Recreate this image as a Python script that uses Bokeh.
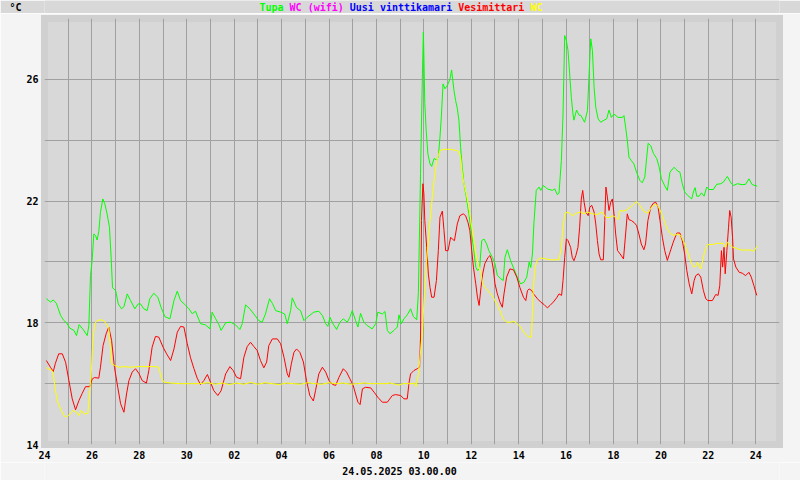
from bokeh.plotting import figure
from bokeh.layouts import column
from bokeh.models import Range1d, FixedTicker, LinearAxis
from bokeh.core.properties import value
from bokeh.embed import file_html
from bokeh.resources import INLINE

# ---------------- data ----------------
X_TICK_LABELS = ["24", "26", "28", "30", "02", "04", "06", "08",
                 "10", "12", "14", "16", "18", "20", "22", "24"]
Y_TICK_LABELS = [14, 18, 22, 26]
DATE_TEXT = "24.05.2025 03.00.00"
UNIT_TEXT = "°C"
SERIES_NAMES = ["Tupa", "WC (wifi)", "Uusi vinttikamari", "Vesimittari", "WC"]
SERIES_COLORS = ["#00ff00", "#ff00ff", "#0000ff", "#ff0000", "#ffff00"]

TUPA_DAY = [0.08, 0.25, 0.37, 0.5, 0.68, 0.82, 0.93, 1.07, 1.24, 1.35, 1.46, 1.63, 1.8, 1.87, 1.94, 2.01,
            2.08, 2.15, 2.22, 2.29, 2.36, 2.46, 2.54, 2.64, 2.74, 2.81, 2.87, 3.0, 3.11, 3.25, 3.35, 3.49,
            3.63, 3.81, 3.95, 4.05, 4.19, 4.33, 4.44, 4.61, 4.78, 4.92, 5.08, 5.29, 5.46, 5.6, 5.74, 5.92,
            6.09, 6.23, 6.37, 6.58, 6.79, 6.98, 7.07, 7.22, 7.36, 7.45, 7.64, 7.85, 8.06, 8.24, 8.34, 8.48,
            8.66, 8.83, 9.04, 9.18, 9.32, 9.49, 9.61, 9.75, 9.96, 10.13, 10.24, 10.38, 10.45, 10.63, 10.8,
            10.94, 11.08, 11.36, 11.57, 11.72, 11.86, 11.95, 12.04, 12.18, 12.32, 12.46, 12.6, 12.77, 12.88,
            12.98, 13.12, 13.22, 13.33, 13.47, 13.61, 13.82, 13.97, 14.06, 14.25, 14.36, 14.46, 14.57, 14.74,
            14.88, 14.95, 15.05, 15.16, 15.3, 15.44, 15.56, 15.7, 15.77, 15.86, 15.94, 15.98, 16.0, 16.04,
            16.1, 16.17, 16.26, 16.33, 16.43, 16.54, 16.61, 16.68, 16.74, 16.81, 16.89, 16.99, 17.1, 17.17,
            17.27, 17.34, 17.41, 17.48, 17.55, 17.62, 17.69, 17.79, 17.9, 17.97, 18.09, 18.19, 18.26, 18.35,
            18.44, 18.54, 18.65, 18.74, 18.89, 19.0, 19.1, 19.24, 19.35, 19.42, 19.52, 19.66, 19.8, 19.94,
            20.08, 20.22, 20.34, 20.44, 20.51, 20.58, 20.64, 20.74, 20.86, 20.93, 21.04, 21.21, 21.42, 21.52,
            21.63, 21.7, 21.8, 21.87, 21.94, 22.01, 22.08, 22.15, 22.22, 22.29, 22.33, 22.44, 22.55, 22.62,
            22.78, 22.9, 22.97, 23.04, 23.11, 23.18, 23.25, 23.35, 23.46, 23.6, 23.71, 23.81, 23.91, 24.02,
            24.19, 24.38, 24.44, 24.51, 24.58, 24.65, 24.75, 24.86, 24.97, 25.11, 25.21, 25.32, 25.4, 25.46,
            25.57, 25.68, 25.82, 25.92, 26.02, 26.16, 26.27, 26.38, 26.55, 26.72, 26.8, 26.9, 27.0, 27.12,
            27.3, 27.37, 27.44, 27.51, 27.61, 27.71, 27.82, 27.93, 28.03, 28.21, 28.35, 28.52, 28.63, 28.8,
            28.95, 29.06, 29.22, 29.43, 29.57, 29.71, 29.85, 30.06]
TUPA_TEMP = [18.79, 18.68, 18.75, 18.64, 18.24, 18.07, 18.0, 17.82, 17.75, 17.58, 17.94, 17.78, 17.58, 17.9,
             19.55, 20.05, 20.92, 20.87, 20.72, 21.0, 21.63, 22.07, 21.92, 21.58, 21.14, 20.16, 19.15, 19.06,
             18.62, 18.46, 18.53, 18.95, 18.73, 18.46, 18.62, 18.62, 18.46, 18.4, 18.79, 18.97, 18.84, 18.5,
             18.2, 18.13, 18.73, 19.04, 18.73, 18.6, 18.46, 18.3, 18.38, 17.97, 17.93, 17.8, 18.35, 18.13,
             17.93, 17.75, 18.0, 18.02, 17.93, 17.78, 17.97, 18.59, 18.46, 18.29, 18.07, 18.02, 18.29, 18.79,
             18.64, 18.4, 18.35, 18.29, 17.97, 18.4, 18.82, 18.5, 18.4, 18.07, 18.18, 18.35, 18.38, 18.24,
             17.97, 17.88, 18.18, 17.95, 17.78, 18.02, 18.13, 18.02, 18.18, 18.4, 18.07, 17.86, 18.31, 18.02,
             17.91, 17.8, 17.97, 18.35, 18.29, 18.37, 17.75, 17.64, 17.75, 17.86, 18.26, 17.97, 18.13, 18.26,
             18.46, 18.2, 18.1, 19.0, 22.9, 26.18, 27.55, 26.84, 25.2, 24.3, 23.55, 23.22, 23.14, 23.4, 23.35,
             23.45, 24.1, 24.8, 25.85, 25.69, 25.8, 26.0, 26.31, 25.64, 25.3, 25.05, 24.65, 23.77, 23.1, 22.57,
             22.14, 21.58, 21.15, 20.48, 19.83, 19.72, 19.77, 20.7, 20.75, 20.59, 20.37, 20.15, 19.94, 19.56,
             19.45, 19.39, 20.15, 20.4, 20.04, 19.77, 19.5, 19.28, 19.33, 19.5, 19.99, 19.82, 20.26, 21.25,
             22.35, 22.46, 22.35, 22.51, 22.4, 22.35, 22.4, 22.21, 22.26, 23.33, 24.86, 27.44, 27.27, 26.95,
             26.18, 25.4, 24.86, 24.66, 24.99, 24.82, 24.82, 24.59, 24.97, 26.18, 27.33, 26.95, 25.74, 25.08,
             24.7, 24.59, 24.66, 24.7, 24.99, 24.75, 24.86, 24.75, 24.75, 24.81, 24.43, 24.0, 23.44, 23.33,
             23.22, 22.95, 22.68, 22.6, 22.79, 23.44, 23.9, 23.82, 23.57, 23.4, 23.13, 22.73, 22.5, 22.35,
             22.95, 23.11, 22.98, 22.95, 22.57, 22.3, 22.19, 22.07, 22.3, 22.44, 22.16, 22.16, 22.27, 22.16,
             22.46, 22.38, 22.38, 22.55, 22.57, 22.62, 22.81, 22.6, 22.51, 22.57, 22.54, 22.55, 22.73, 22.54,
             22.49]

VESI_DAY = [0.08, 0.25, 0.37, 0.46, 0.6, 0.75, 0.89, 1.03, 1.17, 1.31, 1.45, 1.59, 1.73, 1.91, 2.01, 2.11,
            2.29, 2.36, 2.47, 2.6, 2.71, 2.83, 2.95, 3.09, 3.21, 3.35, 3.46, 3.56, 3.7, 3.84, 3.98, 4.12, 4.3,
            4.4, 4.54, 4.68, 4.82, 5.0, 5.15, 5.32, 5.46, 5.6, 5.74, 5.88, 6.02, 6.16, 6.3, 6.44, 6.58, 6.72,
            6.87, 7.0, 7.14, 7.31, 7.45, 7.64, 7.82, 7.96, 8.1, 8.27, 8.41, 8.55, 8.69, 8.83, 8.97, 9.11,
            9.25, 9.37, 9.46, 9.61, 9.82, 9.96, 10.1, 10.24, 10.31, 10.41, 10.52, 10.63, 10.77, 10.92, 11.05,
            11.19, 11.34, 11.43, 11.57, 11.72, 11.86, 12.0, 12.14, 12.28, 12.42, 12.6, 12.74, 12.88, 13.02,
            13.12, 13.22, 13.31, 13.41, 13.54, 13.76, 13.9, 14.06, 14.25, 14.46, 14.67, 14.81, 15.02, 15.16,
            15.3, 15.37, 15.44, 15.58, 15.72, 15.82, 15.86, 15.9, 15.96, 16.0, 16.04, 16.12, 16.19, 16.26,
            16.33, 16.43, 16.53, 16.61, 16.68, 16.78, 16.85, 16.92, 17.02, 17.13, 17.2, 17.29, 17.41, 17.52,
            17.66, 17.76, 17.86, 17.94, 18.02, 18.09, 18.19, 18.26, 18.33, 18.41, 18.48, 18.57, 18.71, 18.79,
            18.86, 18.93, 19.0, 19.1, 19.21, 19.31, 19.38, 19.49, 19.63, 19.78, 19.92, 20.05, 20.2, 20.3,
            20.37, 20.44, 20.55, 20.65, 20.79, 20.93, 21.07, 21.21, 21.32, 21.46, 21.6, 21.7, 21.81, 21.87,
            21.94, 22.01, 22.08, 22.19, 22.26, 22.33, 22.41, 22.5, 22.57, 22.64, 22.7, 22.76, 22.83, 22.93,
            23.0, 23.08, 23.18, 23.25, 23.32, 23.39, 23.46, 23.57, 23.63, 23.68, 23.74, 23.81, 23.88, 23.95,
            24.02, 24.09, 24.17, 24.28, 24.42, 24.51, 24.58, 24.65, 24.75, 24.86, 24.97, 25.07, 25.17, 25.28,
            25.35, 25.45, 25.57, 25.68, 25.78, 25.88, 25.96, 26.06, 26.16, 26.27, 26.38, 26.52, 26.67, 26.8,
            26.9, 27.0, 27.09, 27.19, 27.3, 27.4, 27.47, 27.58, 27.68, 27.79, 27.89, 27.98, 28.17, 28.31,
            28.41, 28.48, 28.55, 28.6, 28.66, 28.71, 28.78, 28.85, 28.9, 28.96, 29.02, 29.06, 29.16, 29.3,
            29.43, 29.57, 29.71, 29.81, 29.92, 30.04]
VESI_TEMP = [16.76, 16.54, 16.4, 16.67, 16.98, 16.98, 16.7, 16.1, 15.5, 15.14, 15.44, 15.68, 15.9, 15.9,
             16.15, 16.2, 16.18, 16.54, 17.25, 17.64, 17.86, 17.42, 16.54, 15.88, 15.34, 15.06, 15.66, 16.1,
             16.38, 16.49, 16.34, 16.1, 16.02, 16.43, 17.2, 17.55, 17.53, 17.2, 16.98, 16.76, 17.14, 17.69,
             17.88, 17.86, 17.32, 16.85, 16.5, 16.18, 15.97, 16.1, 16.3, 16.05, 15.77, 15.61, 15.77, 16.32,
             16.56, 16.43, 16.21, 16.16, 16.87, 17.22, 17.36, 17.22, 17.09, 16.76, 16.52, 16.71, 17.25, 17.47,
             17.47, 17.31, 16.87, 16.32, 16.21, 16.65, 17.03, 17.14, 17.03, 16.71, 16.1, 15.61, 15.43, 15.77,
             16.32, 16.54, 16.38, 16.1, 15.98, 15.94, 16.21, 16.49, 16.38, 16.16, 15.94, 15.66, 15.39, 15.31,
             15.83, 15.88, 15.86, 15.72, 15.55, 15.39, 15.39, 15.61, 15.64, 15.61, 15.5, 15.5, 16.0, 16.32,
             16.43, 16.49, 16.54, 17.53, 21.36, 22.57, 22.25, 21.36, 20.48, 19.6, 19.16, 18.84, 18.84, 19.39,
             20.37, 21.47, 21.67, 21.03, 20.37, 20.37, 20.81, 20.75, 20.7, 21.25, 21.52, 21.58, 21.52, 21.3,
             21.03, 20.37, 19.83, 19.28, 18.84, 18.57, 19.16, 19.6, 19.94, 20.15, 20.21, 20.07, 19.77, 19.28,
             18.95, 18.68, 18.51, 18.95, 19.5, 19.77, 19.74, 19.5, 19.16, 18.84, 18.73, 19.06, 19.11, 19.06,
             18.93, 18.79, 18.68, 18.6, 18.49, 18.57, 18.68, 18.82, 18.95, 18.9, 19.39, 20.15, 20.76, 20.7,
             20.48, 20.15, 20.04, 20.21, 20.48, 21.14, 22.07, 22.35, 21.96, 21.64, 21.52, 21.8, 21.86, 21.64,
             21.25, 20.7, 20.26, 20.07, 20.07, 21.36, 22.46, 22.13, 21.69, 21.96, 22.07, 21.58, 20.92, 20.37,
             20.26, 20.1, 20.92, 21.58, 21.39, 21.36, 21.3, 21.2, 20.92, 20.59, 20.4, 20.59, 21.36, 21.8,
             21.93, 21.96, 21.8, 21.36, 20.81, 20.37, 20.05, 20.32, 20.65, 20.95, 20.95, 20.7, 20.26, 19.72,
             19.28, 18.95, 19.39, 19.55, 19.61, 19.5, 19.06, 18.79, 18.73, 18.73, 18.93, 18.9, 19.22, 20.37,
             19.83, 20.48, 19.61, 20.37, 21.14, 21.69, 21.47, 20.81, 20.1, 19.83, 19.66, 19.63, 19.55, 19.66,
             19.5, 19.22, 18.9]

WC_DAY = [0.08, 0.32, 0.39, 0.46, 0.56, 0.68, 0.82, 0.93, 1.07, 1.21, 1.35, 1.45, 1.55, 1.69, 1.83, 1.91,
          1.97, 2.04, 2.12, 2.22, 2.36, 2.5, 2.6, 2.71, 2.78, 2.84, 2.95, 3.14, 3.35, 3.63, 3.91, 4.19, 4.61,
          4.82, 4.92, 5.03, 5.32, 5.74, 6.16, 6.55, 6.9, 7.2, 7.5, 7.8, 8.1, 8.4, 8.7, 9.0, 9.3, 9.6, 9.9,
          10.2, 10.5, 10.8, 11.1, 11.4, 11.7, 12.0, 12.3, 12.6, 12.9, 13.2, 13.5, 13.8, 14.1, 14.4, 14.57,
          14.8, 14.95, 15.1, 15.3, 15.5, 15.63, 15.67, 15.77, 15.84, 15.94, 16.0, 16.12, 16.22, 16.33, 16.43,
          16.54, 16.68, 16.85, 17.13, 17.38, 17.48, 17.55, 17.62, 17.69, 17.79, 17.9, 18.0, 18.09, 18.19,
          18.29, 18.41, 18.48, 18.57, 18.68, 18.82, 18.96, 19.1, 19.24, 19.35, 19.49, 19.66, 19.8, 19.94,
          20.08, 20.22, 20.34, 20.44, 20.54, 20.58, 20.62, 20.69, 20.79, 20.93, 21.14, 21.35, 21.56, 21.7,
          21.8, 21.87, 21.95, 22.08, 22.26, 22.43, 22.62, 22.76, 22.9, 23.11, 23.32, 23.53, 23.67, 23.81,
          23.95, 24.09, 24.19, 24.28, 24.42, 24.56, 24.7, 24.84, 24.97, 25.11, 25.28, 25.45, 25.6, 25.74,
          25.85, 25.96, 26.06, 26.16, 26.27, 26.41, 26.55, 26.7, 26.84, 26.95, 27.05, 27.15, 27.27, 27.38,
          27.47, 27.54, 27.61, 27.68, 27.76, 27.85, 27.96, 28.17, 28.38, 28.63, 28.73, 28.8, 28.92, 29.02,
          29.16, 29.37, 29.57, 29.79, 29.92, 30.06]
WC_TEMP = [16.52, 16.43, 16.21, 15.77, 15.39, 15.17, 14.95, 14.9, 15.0, 15.12, 15.06, 14.95, 15.12, 15.0,
           15.03, 15.77, 16.32, 17.42, 17.97, 18.07, 18.1, 18.07, 17.97, 17.82, 17.2, 16.65, 16.6, 16.54,
           16.56, 16.54, 16.56, 16.56, 16.56, 16.54, 16.21, 16.05, 16.02, 16.0, 16.0, 16.0, 16.03, 15.98,
           16.02, 15.97, 16.02, 15.98, 16.04, 15.98, 16.03, 16.0, 15.97, 16.02, 16.0, 15.98, 16.03, 16.0,
           15.98, 16.03, 16.0, 16.02, 15.98, 16.0, 16.02, 16.0, 16.0, 16.0, 16.02, 15.98, 15.95, 16.0, 16.0,
           16.0, 16.02, 15.9, 16.32, 16.87, 17.75, 18.62, 20.05, 21.03, 21.91, 22.68, 23.33, 23.66, 23.7,
           23.7, 23.66, 23.63, 23.44, 22.9, 22.57, 22.24, 21.8, 21.25, 20.81, 20.26, 19.94, 19.61, 19.28,
           19.17, 19.08, 18.95, 18.79, 18.57, 18.35, 18.13, 18.02, 18.02, 18.05, 17.97, 17.86, 17.69, 17.58,
           17.53, 17.53, 18.3, 19.17, 19.83, 20.07, 20.13, 20.1, 20.07, 20.07, 20.07, 20.48, 21.14, 21.6,
           21.64, 21.52, 21.6, 21.64, 21.58, 21.64, 21.58, 21.56, 21.64, 21.47, 21.45, 21.52, 21.47, 21.39,
           21.69, 21.67, 21.71, 21.8, 21.89, 21.99, 21.86, 21.67, 21.6, 21.8, 21.89, 21.86, 21.71, 21.52,
           21.3, 21.09, 20.92, 20.87, 20.92, 20.87, 20.68, 20.48, 20.26, 19.99, 19.83, 19.85, 19.99, 19.88,
           19.77, 20.04, 20.37, 20.57, 20.57, 20.61, 20.61, 20.48, 20.65, 20.57, 20.48, 20.46, 20.39, 20.39,
           20.39, 20.35, 20.53]

# ---------------- layout ----------------
W = 800
HEAD_H, FOOT_H = 13, 18
MAIN_H = 480 - HEAD_H - FOOT_H
B_LEFT, B_RIGHT, B_TOP, B_BOTTOM = 44, 21, 5, 18
N_DAYS = 31
MONO = "DejaVu Sans Mono"


def text_strip(height, bg):
    # pixel-like coordinates over the frame, which the column aligns with the main chart's frame
    f = figure(width=W, height=height, output_backend="svg", toolbar_location=None, title=None,
               x_range=Range1d(B_LEFT, W - B_RIGHT), y_range=Range1d(2, 0),
               x_axis_type=None, y_axis_type=None, min_border=0,
               min_border_left=B_LEFT, min_border_right=B_RIGHT)
    f.background_fill_color = bg
    f.border_fill_color = bg
    f.outline_line_color = None
    return f


def style_axis(ax):
    ax.axis_line_color = None
    ax.major_tick_line_color = None
    ax.minor_tick_line_color = None
    ax.major_tick_in = 0
    ax.major_tick_out = 0
    ax.major_label_text_font = MONO
    ax.major_label_text_font_style = "bold"
    ax.major_label_text_font_size = "10px"
    ax.major_label_text_color = "#000000"


# header: unit at the left, coloured legend in the middle
head = text_strip(HEAD_H, "#d8d8d8")
unit_axis = LinearAxis(ticker=FixedTicker(ticks=[1]), major_label_overrides={1: UNIT_TEXT})
style_axis(unit_axis)
unit_axis.major_label_standoff = 23
head.add_layout(unit_axis, "left")

legend_left, char_w = 259, 6.02
lx, offset = [], 0
for name in SERIES_NAMES:
    lx.append(legend_left + offset * char_w)
    offset += len(name) + 1
head.text(x=lx, y=[1] * len(lx), text=SERIES_NAMES, text_color=SERIES_COLORS,
          text_font=value(MONO), text_font_style="bold", text_font_size="10px",
          text_baseline="middle", text_align="left")

# main chart
p = figure(width=W, height=MAIN_H, output_backend="svg", toolbar_location=None, title=None,
           x_range=Range1d(0, N_DAYS), y_range=Range1d(14, 28),
           min_border_left=B_LEFT, min_border_right=B_RIGHT,
           min_border_top=B_TOP, min_border_bottom=B_BOTTOM)
p.background_fill_color = "#d8d8d8"
p.border_fill_color = "#f4f4f4"
p.outline_line_color = "#d0d0d0"
p.outline_line_width = 7
p.outline_line_join = "miter"

p.xgrid.ticker = FixedTicker(ticks=list(range(0, N_DAYS + 1)))
p.ygrid.ticker = FixedTicker(ticks=list(range(14, 29, 2)))
for g in (p.xgrid, p.ygrid):
    g.grid_line_color = "#a0a0a0"
    g.grid_line_width = 1

x_pos = list(range(0, 2 * len(X_TICK_LABELS), 2))
p.xaxis.ticker = FixedTicker(ticks=x_pos)
p.xaxis.major_label_overrides = {pos: lab for pos, lab in zip(x_pos, X_TICK_LABELS)}
p.yaxis.ticker = FixedTicker(ticks=Y_TICK_LABELS)
for ax in (p.xaxis[0], p.yaxis[0]):
    style_axis(ax)
p.xaxis.major_label_standoff = 6
p.yaxis.major_label_standoff = 6

p.line(TUPA_DAY, TUPA_TEMP, line_color=SERIES_COLORS[0], line_width=1)
p.line(VESI_DAY, VESI_TEMP, line_color=SERIES_COLORS[3], line_width=1)
p.line(WC_DAY, WC_TEMP, line_color=SERIES_COLORS[4], line_width=1)

# footer with the date
foot = text_strip(FOOT_H, "#f4f4f4")
foot.text(x=[399], y=[1], text=[DATE_TEXT], text_font=value(MONO), text_font_style="bold",
          text_font_size="10px", text_color="#000000", text_baseline="middle", text_align="center")

layout = column(head, p, foot, spacing=0)
open("out.html", "w").write(file_html(layout, INLINE))
